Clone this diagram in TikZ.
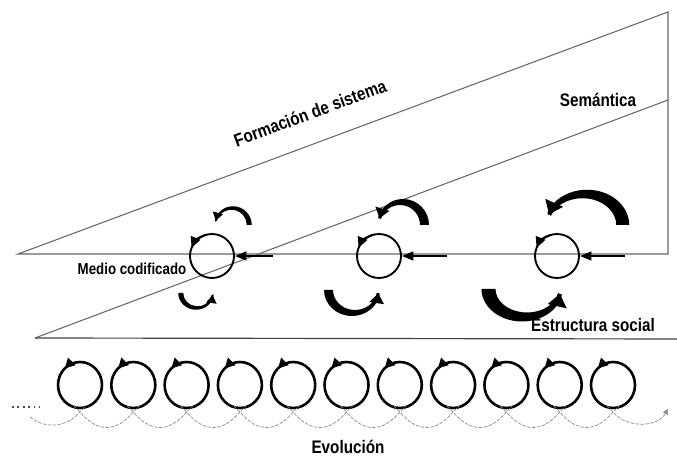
\documentclass[tikz,border=0pt]{standalone}
\usepackage{fontspec}
\newfontfamily\condfont[FakeStretch=0.84]{Liberation Sans}
\usetikzlibrary{positioning, arrows.meta, decorations.markings}

\begin{document}
\begin{tikzpicture}[x=0.03cm, y=0.03cm,
  sideline/.style={draw=black!60, line width=0.9pt},
  baseline/.style={draw=black!75, line width=1pt},
  ring/.style={circle, draw, line width=1.6pt, minimum size=1.32cm, inner sep=0pt},
  ringtip/.style={-{Triangle[length=3.2mm, width=3mm]}, line width=1.6pt},
  push/.style={-{Triangle[length=3.4mm, width=2.6mm]}, line width=1.8pt},
  whorl/.style={line width=2.2pt, postaction={decorate},
    decoration={markings, mark=at position 0.37 with {\arrow{Triangle[length=3mm, width=3mm]}}}},
  trail/.style={draw=black!45, line width=0.6pt, dash pattern=on 3pt off 1.2pt},
  lbl/.style={font=\condfont\bfseries\fontsize{15.5}{18}\selectfont, inner sep=0pt},
  small/.style={font=\condfont\bfseries\fontsize{13.5}{16}\selectfont, inner sep=0pt},
]
  \useasboundingbox (0,0) rectangle (677,457);

  % wedge of system formation
  \coordinate (apex) at (18,203);
  \coordinate (top) at (668,445);
  \coordinate (corner) at (668,203);
  \coordinate (low) at (35,119);
  \coordinate (sem) at (668,357);
  \coordinate (floor) at (677,118);
  \draw[sideline] (apex) -- (top) -- (corner) -- cycle;
  \draw[sideline] (low) -- (sem);
  \draw[baseline] (low) -- (floor);

  \node[lbl, rotate=20.4] (form) at (310,344) {Formación de sistema};
  \node[lbl] (seman) at (598,357) {Semántica};
  \node[small] (medio) at (132,188) {Medio codificado};
  \node[lbl] (estr) at (593,132) {Estructura social};

  % three coded media
  \node[ring] (c1) at (212,201) {};
  \node[ring] (c2) at (379,201) {};
  \node[ring] (c3) at (557,201) {};
  \foreach \c in {c1,c2,c3}
    \draw[ringtip] ([shift={(105:22)}]\c.center) arc[start angle=105, end angle=158, radius=22];

  \coordinate (in1) at (273,201);
  \coordinate (in2) at (447,201);
  \coordinate (in3) at (625,201);
  \draw[push] (in1) -- (c1.east);
  \draw[push] (in2) -- (c2.east);
  \draw[push] (in3) -- (c3.east);

  % circulation around each medium: tapered arcs, thick end first
  \foreach \cx/\cy/\rx/\ry/\ta/\tb/\s/\e/\tl/\tw in {
      233/232/17/17/5/2/0/165/2.4/3,
      196/164/16/15/5/2/180/352/2.4/3,
      403/232/23/23/9/3/0/163/3/4.2,
      352/167/25/23/9/3/180/352/3/4.2,
      587/232/38/31/13/4/0/160/3.8/5.6,
      522/168/36/28/14/4/180/350/3.8/5.6} {
    \pgfmathsetmacro\h{(\ta+\tb)/4}
    \pgfmathsetmacro\sx{-(\ta-\tb)/2*cos(\s)}
    \pgfmathsetmacro\ox{\cx+(\rx+\h)*cos(\s)}
    \pgfmathsetmacro\ix{\cx+\sx+(\rx-\h)*cos(\e)}
    \pgfmathsetmacro\iy{\cy+(\ry-\h)*sin(\e)}
    \pgfmathsetmacro\orx{\rx+\h}
    \pgfmathsetmacro\ory{\ry+\h}
    \pgfmathsetmacro\irx{\rx-\h}
    \pgfmathsetmacro\iry{\ry-\h}
    \pgfmathsetmacro\ma{\e-14}
    \pgfmathsetmacro\mx{\cx+\sx/2+\rx*cos(\ma)}
    \pgfmathsetmacro\my{\cy+\ry*sin(\ma)}
    \fill (\ox,\cy) arc[start angle=\s, end angle=\e, x radius=\orx, y radius=\ory]
      -- (\ix,\iy) arc[start angle=\e, end angle=\s, x radius=\irx, y radius=\iry] -- cycle;
    \draw[line width=\tb*0.85pt, -{Triangle[length=\tl mm, width=\tw mm]}]
      (\mx,\my) arc[start angle=\ma, end angle=\e, x radius=\rx, y radius=\ry];
  }

  % evolution
  \foreach \i in {0,...,10} {
    \pgfmathsetmacro\xc{80+53.3*\i}
    \draw[whorl] (\xc+22,72) arc[start angle=0, end angle=360, x radius=22, y radius=23];
  }
  \foreach \i in {0,...,9} {
    \pgfmathsetmacro\xc{80+53.3*\i}
    \draw[trail] (\xc-6,51) -- (\xc,45) to[out=-50, in=230, looseness=1.3] (\xc+53.3,45) -- (\xc+59.3,51);
  }
  \draw[trail] (30,40) to[out=-40, in=230] (80,45) -- (86,51);
  \draw[trail, -{Triangle[length=1.6mm, width=1.6mm]}] (607,51) -- (613,45) to[out=-50, in=240] (668,48);
  \draw[black!70, line width=1.6pt, dash pattern=on 1.6pt off 3pt] (12,50) -- (40,50);

  \node[lbl] (evol) at (348,10) {Evolución};
\end{tikzpicture}
\end{document}
